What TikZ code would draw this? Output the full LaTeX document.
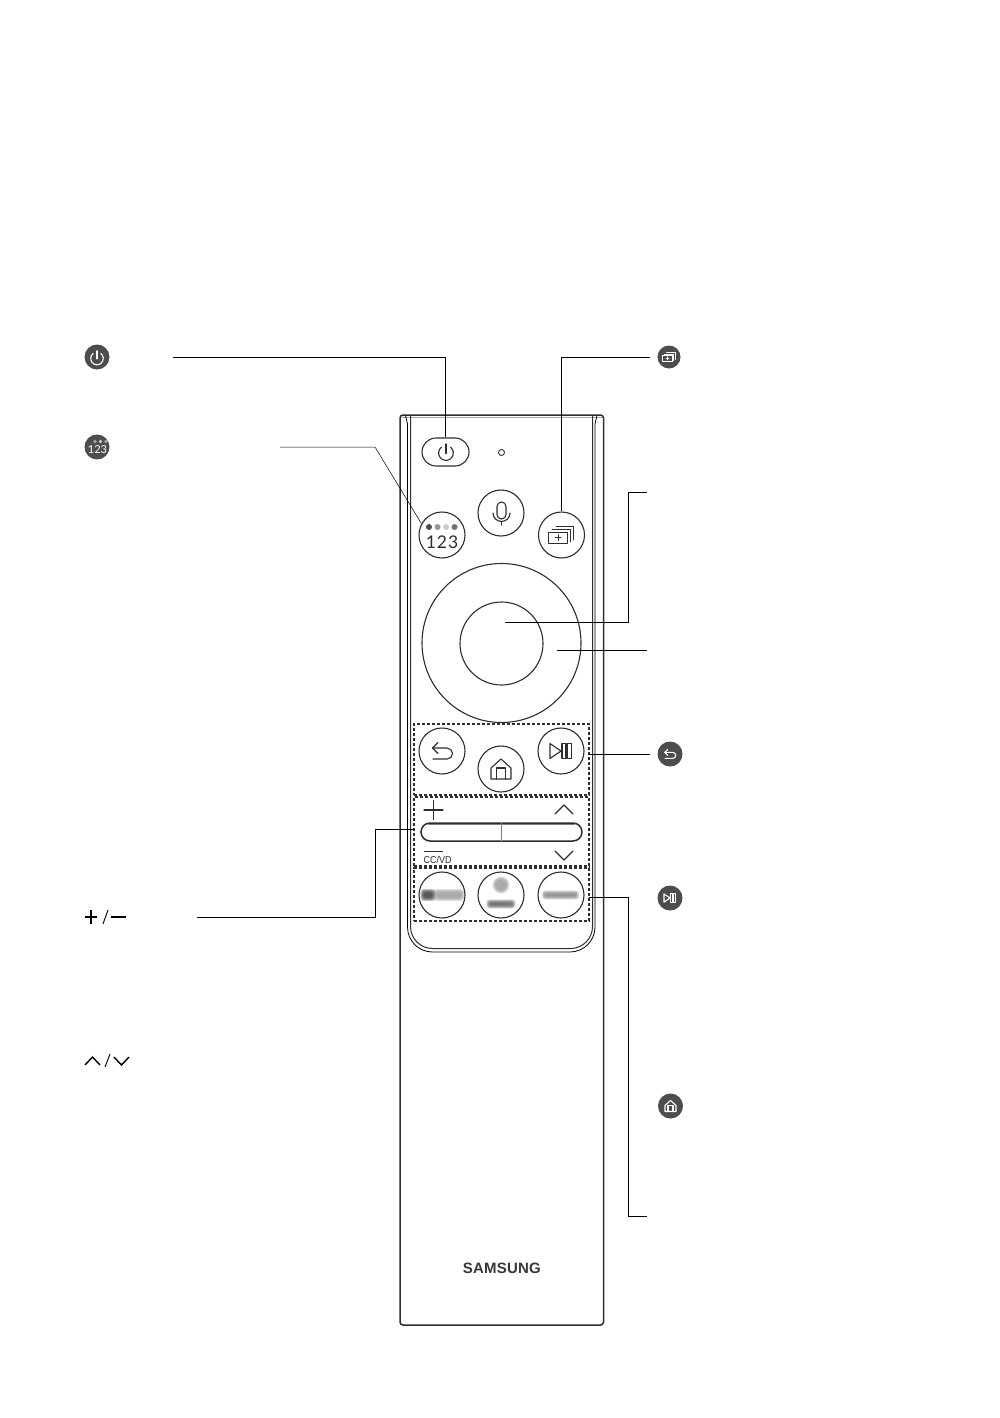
\documentclass[tikz,border=0pt]{standalone}
\usepackage{fontspec}
\setmainfont{Liberation Sans}
\newfontfamily\numf{Lato}
\definecolor{ink}{HTML}{2E2E30}
\definecolor{badge}{HTML}{4D4D4F}
\definecolor{thin}{HTML}{6E6E70}
\newcommand{\blurblob}[5]{%
  \foreach \g in {3.6,3.1,2.6,2.1,1.6,1.1,.6,.1}{%
    \fill[#5,opacity=.18,rounded corners=3pt] (#1-#3/2-\g,#2-#4/2-\g) rectangle (#1+#3/2+\g,#2+#4/2+\g);}}
\newcommand{\blurdisc}[4]{%
  \foreach \g in {3.6,3.1,2.6,2.1,1.6,1.1,.6,.1}{%
    \fill[#4,opacity=.18] (#1,#2) circle[radius=#3+\g];}}
\tikzset{
  x=1pt,y=-1pt,
  lead/.style={draw=black,line width=1pt},
  btn/.style={circle,draw=ink,line width=1.1pt,minimum size=46pt,inner sep=0pt},
  dashbox/.style={rectangle,draw=ink,line width=1.5pt,dash pattern=on 3.4pt off 1.6pt,inner sep=0pt},
  badgenode/.style={circle,fill=badge,minimum size=25pt,inner sep=0pt},
  glyph/.style={line width=1.1pt,line cap=round,line join=round},
  pwricon/.pic={\draw[glyph,pic actions] (-4.56,-5.83) arc[start angle=-128,end angle=-412,radius=7.4]; \draw[glyph,pic actions] (0,-9) -- (0,0.5);},
  backicon/.pic={\draw[glyph,pic actions] (-4,-8.5) -- (-9.5,-3) -- (-4,2.5); \draw[glyph,pic actions] (-9.5,-3) -- (5,-3) arc[start angle=-90,end angle=90,radius=5.5] -- (-9,8);},
  homeicon/.pic={\draw[glyph,pic actions] (-10,-1) -- (0,-10) -- (10,-1) -- (10,10) -- (-10,10) -- cycle; \draw[glyph,pic actions] (-4.5,10) -- (-4.5,-1) -- (4.5,-1) -- (4.5,10);},
  playicon/.pic={\draw[glyph,pic actions] (-11,-7.5) -- (0,0) -- (-11,7.5) -- cycle; \draw[glyph,pic actions] (1,-7.5) rectangle (5,7.5); \draw[glyph,pic actions] (6.5,-7.5) rectangle (10.5,7.5);},
  multiicon/.pic={\draw[glyph,pic actions] (-13,-3) rectangle (6,8); \draw[glyph,pic actions] (-9,-6) -- (9,-6) -- (9,7); \draw[glyph,pic actions] (-5,-9) -- (12,-9) -- (12,5); \draw[glyph,pic actions] (-6,2.5) -- (0,2.5) (-3,-.5) -- (-3,5.5);}
}
\begin{document}
\begin{tikzpicture}
\useasboundingbox (0,0) rectangle (999,1418);
\fill[white] (0,0) rectangle (999,1418);

% remote body
\draw[gray!70,line width=.8pt] (402,417) -- (602,417);
\draw[ink,line width=1.5pt,rounded corners=3pt] (400,415) rectangle (603.5,1325);
\draw[thin,line width=.8pt,rounded corners=25pt] (407.5,424) -- (407.5,952) -- (595,952) -- (595,424);
\draw[thin,line width=.8pt] (405.5,415.5) -- (407.5,424) (597,415.5) -- (595,424);
\draw[ink,line width=1pt,rounded corners=22pt] (410.5,415.5) -- (410.5,948.5) -- (592.5,948.5) -- (592.5,415.5);

% buttons
\node[draw=ink,line width=1.1pt,rounded corners=14pt,minimum width=47pt,minimum height=28pt,inner sep=0pt] (pw) at (445.5,452) {};
\pic[color=ink] at (446,453) {pwricon};
\node[circle,draw=ink,line width=.9pt,minimum size=6pt,inner sep=0pt] (led) at (501.5,452.5) {};
\node[btn] (mic) at (501,513) {};
\draw[glyph,ink] (497,506.5) arc[start angle=180,end angle=360,radius=4.5] -- (506,514.5) arc[start angle=0,end angle=180,radius=4.5] -- cycle;
\draw[glyph,ink] (493,513) arc[start angle=180,end angle=0,radius=8.5];
\draw[glyph,ink] (501.5,521.5) -- (501.5,525);

\node[btn] (num) at (442,535) {};
\fill[black!70] (429,527) circle[radius=3];
\fill[black!40] (437.5,527) circle[radius=3];
\fill[black!20] (446,527) circle[radius=3];
\fill[black!55] (454.5,527) circle[radius=3];
\node[inner sep=0pt,text=ink,font=\numf\fontsize{17.5}{18}\selectfont] (numtxt) at (442,542) {1\hspace{1pt}2\hspace{1pt}3};

\node[btn] (mv) at (561.5,535) {};
\begin{scope}[glyph/.append style={line width=.85pt}]
\pic[color=ink] at (561,535) {multiicon};
\end{scope}

\node[circle,draw=ink,line width=1.1pt,minimum size=159pt,inner sep=0pt] (wheel) at (501.5,643) {};
\node[circle,draw=ink,line width=1.1pt,minimum size=83pt,inner sep=0pt] (ok) at (501.5,643.5) {};

% dashed groups
\node[dashbox,minimum width=175pt,minimum height=71pt] (g1) at (501.5,759.5) {};
\node[dashbox,minimum width=175pt,minimum height=69pt] (g2) at (501.5,831.5) {};
\node[dashbox,minimum width=175pt,minimum height=53pt] (g3) at (501.5,894.5) {};

\node[btn] (back) at (442,751) {};
\pic[color=ink] at (442,751) {backicon};
\node[btn] (home) at (501,769) {};
\pic[color=ink] at (501,769) {homeicon};
\node[btn] (play) at (561,751) {};
\pic[color=ink] at (561,751) {playicon};

\draw[glyph,ink,line width=1.2pt] (424,810) -- (443,810) (433.5,800.5) -- (433.5,819.5);
\draw[glyph,ink] (555,814) -- (564,805) -- (573,814);
\draw[glyph,ink] (555,851) -- (564,860) -- (573,851);
\draw[ink,line width=1pt] (424,851) -- (443,851);
\node[anchor=base west,inner sep=0pt,xscale=.9,text=ink,font=\fontsize{10}{10}\selectfont] (cc) at (423.5,863) {CC/VD};

\node[draw=ink,line width=1.5pt,rounded corners=9pt,minimum width=161pt,minimum height=18pt,inner sep=0pt] (rock) at (501.5,832) {};
\draw[gray,line width=1.3pt] (rock.north) -- (rock.south);
\draw[gray,line width=1pt] (428,824.8) -- (575,824.8);

% blurred shortcut buttons
\blurblob{449}{895}{24}{5}{black!40}
\blurblob{428}{895}{8}{5}{black!80}
\blurdisc{501}{885}{5}{black!40}
\blurblob{501}{904}{22}{2}{black!65}
\blurblob{560.5}{895}{30}{2}{black!50}
\node[btn] (s1) at (442,895) {};
\node[btn] (s2) at (501,895) {};
\node[btn] (s3) at (561,895) {};

\node[inner sep=0pt,text=black!78,font=\bfseries\fontsize{15}{15}\selectfont\addfontfeature{LetterSpace=1.5}] (logo) at (501.8,1268.5) {SAMSUNG};

% left badges and keys
\node[badgenode] (bpw) at (97,357) {};
\pic[color=white,scale=.85] at (97,358.5) {pwricon};
\node[badgenode] (bnum) at (97,447) {};
\fill[black!70] (89.5,441.5) circle[radius=1.8];
\fill[black!35] (95,441.5) circle[radius=1.8];
\fill[black!20] (100.5,441.5) circle[radius=1.8];
\fill[black!35] (106,441.5) circle[radius=1.8];
\node[inner sep=0pt,text=white,font=\numf\fontsize{11}{11}\selectfont] (bnumt) at (97.5,449.5) {123};

\draw[black,line width=1.4pt] (85,917) -- (97,917) (91,910) -- (91,924);
\draw[black,line width=.9pt] (103,924) -- (108,910);
\draw[black,line width=1.4pt] (111,917) -- (126,917);
\draw[black,line width=1.4pt] (85,1065) -- (92.5,1057) -- (100,1065);
\draw[black,line width=.9pt] (105,1067) -- (110,1054);
\draw[black,line width=1.4pt] (114,1057) -- (121.5,1065) -- (129,1057);

% right badges
\node[badgenode,minimum size=23pt] (bmv) at (669,357) {};
\begin{scope}[glyph/.append style={line width=.6pt}]
\pic[color=white,scale=.5] at (669,357) {multiicon};
\end{scope}
\node[badgenode] (bback) at (670,754) {};
\pic[color=white,scale=.55] at (670,754) {backicon};
\node[badgenode] (bplay) at (670,898) {};
\pic[color=white,scale=.55] at (670,898) {playicon};
\node[badgenode] (bhome) at (670.5,1106) {};
\pic[color=white,scale=.55] at (670.5,1106) {homeicon};

% connector ends
\coordinate (e1) at (173,357);
\coordinate (e2) at (650,357);
\coordinate (e3) at (280,447);
\coordinate (e3b) at (375,447);
\coordinate (e4) at (197,917);
\coordinate (e4b) at (375,917);
\coordinate (e4c) at (375,829);
\coordinate (e5) at (647,492);
\coordinate (e5b) at (628,492);
\coordinate (e5c) at (628,622);
\coordinate (e5d) at (505,622);
\coordinate (e6) at (647,650);
\coordinate (e6b) at (557,650);
\coordinate (e7) at (650,754);
\coordinate (e7b) at (589,754);
\coordinate (e8) at (647,1216);
\coordinate (e8b) at (628,1216);
\coordinate (e8c) at (628,897);
\coordinate (e8d) at (589,897);
\coordinate (e4d) at (414,829);

% connectors
\draw[lead] (e1) -| (pw.north);
\draw[lead] (e2) -| (mv.north);
\draw[thin,line width=.5pt] (e3) -- (e3b) -- (num.151);
\draw[lead] (e4) -- (e4b) -- (e4c) -- (e4d);
\draw[lead] (e5) -- (e5b) -- (e5c) -- (e5d);
\draw[lead] (e6) -- (e6b);
\draw[lead] (e7) -- (e7b);
\draw[lead] (e8) -- (e8b) -- (e8c) -- (e8d);
\end{tikzpicture}
\end{document}
